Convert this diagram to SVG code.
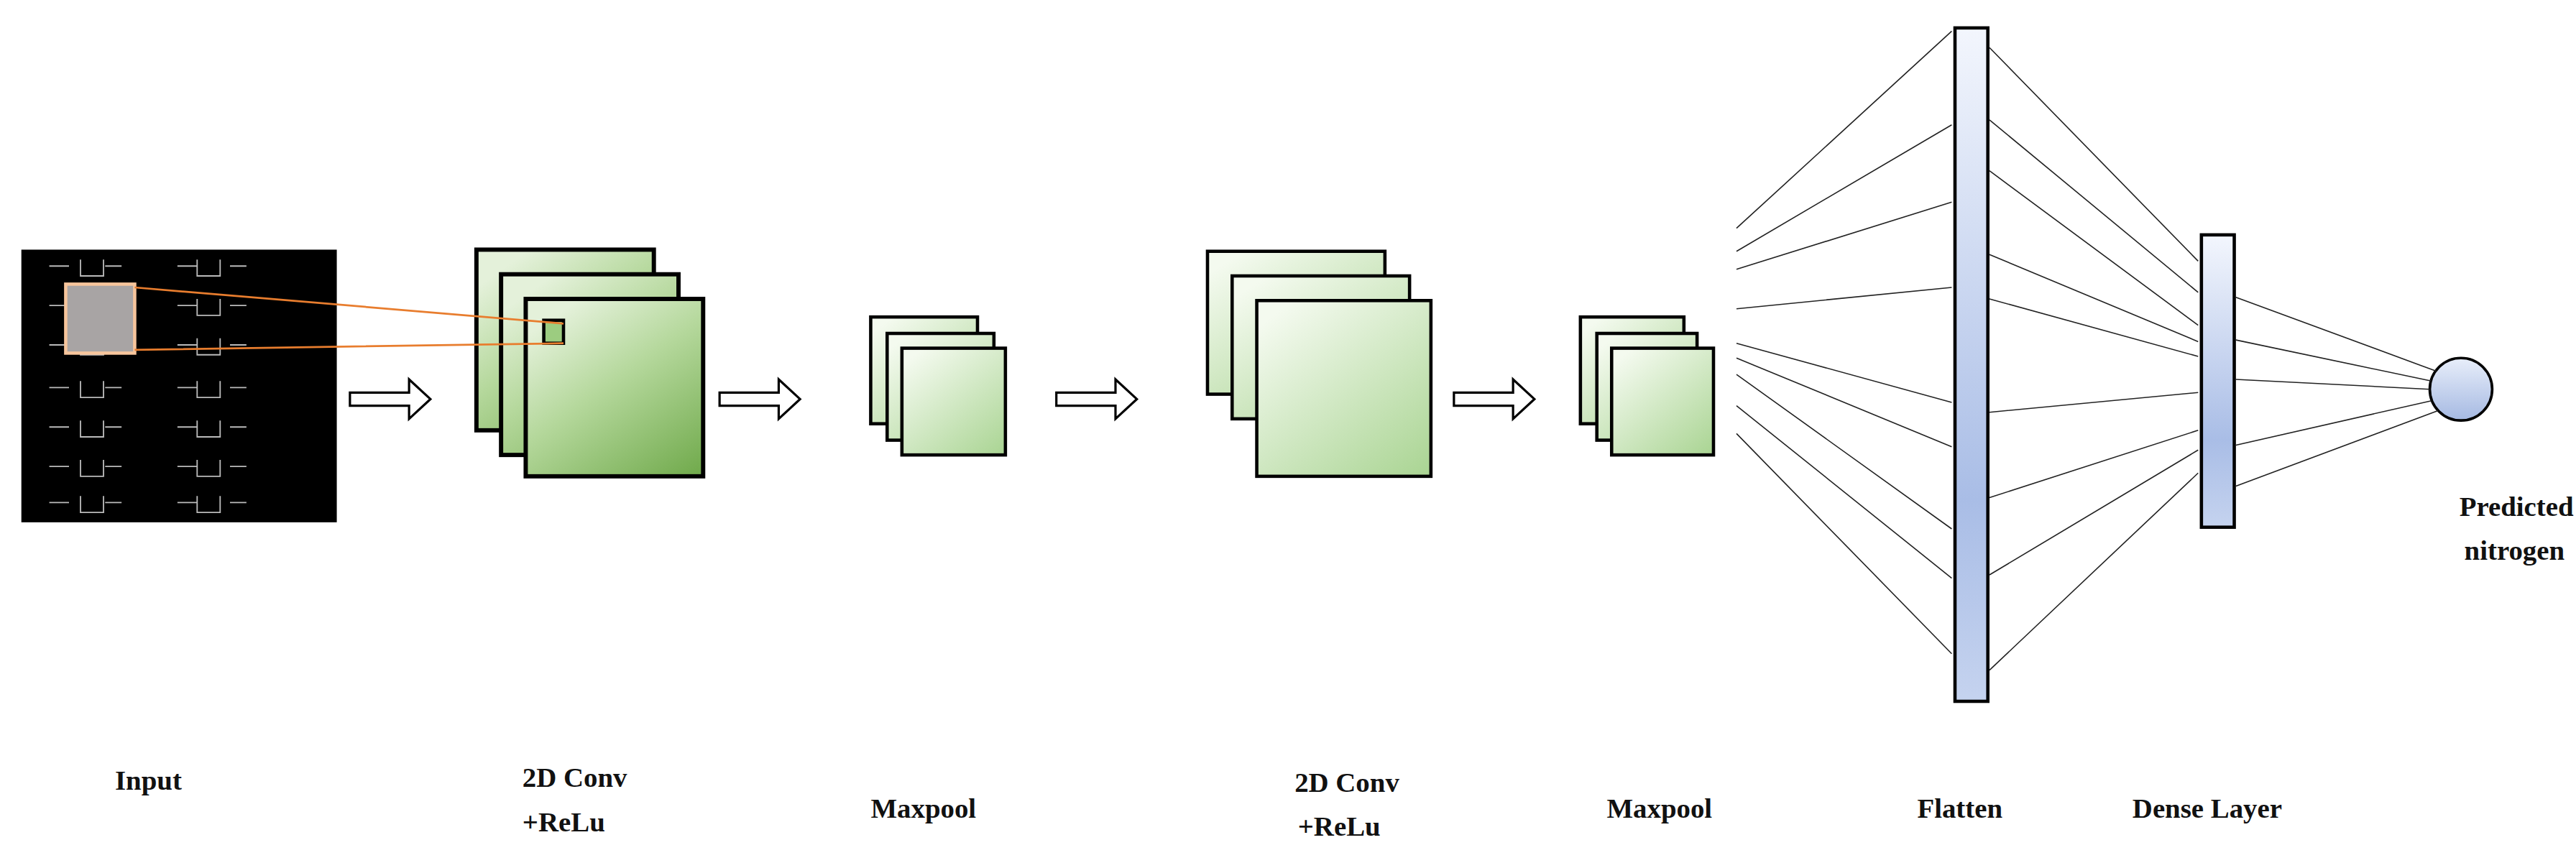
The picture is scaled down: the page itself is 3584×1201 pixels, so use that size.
<svg xmlns="http://www.w3.org/2000/svg" width="3584" height="1201" viewBox="0 0 3584 1201">
<defs>
<linearGradient id="g1" x1="0.3" y1="0" x2="1" y2="1"><stop offset="0" stop-color="#e4f1da"/><stop offset="0.4" stop-color="#b5d89c"/><stop offset="1" stop-color="#6fa94a"/></linearGradient>
<linearGradient id="g2" x1="0.2" y1="0" x2="1" y2="1"><stop offset="0" stop-color="#f4faef"/><stop offset="1" stop-color="#a9d492"/></linearGradient>
<linearGradient id="gb" x1="0" y1="0" x2="0" y2="1"><stop offset="0" stop-color="#f3f6fd"/><stop offset="0.7" stop-color="#a9bde6"/><stop offset="1" stop-color="#c5d3ef"/></linearGradient>
<linearGradient id="gc" x1="0" y1="0" x2="0" y2="1"><stop offset="0" stop-color="#e8eefa"/><stop offset="1" stop-color="#a5b9e2"/></linearGradient>
<style>
.b1{fill:url(#g1);stroke:#000;stroke-width:2.6}
.b2{fill:url(#g2);stroke:#000;stroke-width:2}
.bar{fill:url(#gb);stroke:#000;stroke-width:2}
.ar{fill:#fff;stroke:#000;stroke-width:1.4}
.ln{stroke:#222;stroke-width:0.7;fill:none}
.or{stroke:#e87d2e;stroke-width:1.2;fill:none}
.t{font-family:"Liberation Serif",serif;font-weight:bold;font-size:17px;fill:#111}
.px{stroke:#bbb;stroke-width:0.8;fill:none}
</style>
</defs>
<g transform="scale(2.2857)">
<g id="input">
<rect x="13" y="152" width="192" height="166" fill="#000"/>
<g class="px">
<path d="M30 162h12 M64 162h10 M108 162h12 M140 162h10 M30 186h12 M64 186h10 M108 186h12 M140 186h10 M30 210h12 M64 210h10 M108 210h12 M140 210h10 M30 236h12 M64 236h10 M108 236h12 M140 236h10 M30 260h12 M64 260h10 M108 260h12 M140 260h10 M30 284h12 M64 284h10 M108 284h12 M140 284h10 M30 306h12 M64 306h10 M108 306h12 M140 306h10"/>
<path d="M49 158v10h14v-10 M120 158v10h14v-10 M49 182v10h14v-10 M120 182v10h14v-10 M49 206v10h14v-10 M120 206v10h14v-10 M49 232v10h14v-10 M120 232v10h14v-10 M49 256v10h14v-10 M120 256v10h14v-10 M49 280v10h14v-10 M120 280v10h14v-10 M49 302v10h14v-10 M120 302v10h14v-10"/>
</g>
<rect x="40" y="173" width="42" height="42" fill="#a8a4a4" stroke="#f7c59c" stroke-width="2"/>
</g>
<g id="conv1">
<rect class="b1" x="290" y="152" width="108" height="110"/>
<rect class="b1" x="305" y="167" width="108" height="110"/>
<rect class="b1" x="320" y="182" width="108" height="108"/>
<rect x="331" y="195" width="12" height="14" fill="#9ccc80" stroke="#000" stroke-width="2"/>
</g>
<g id="maxpool1">
<rect class="b2" x="530" y="193" width="65" height="65"/>
<rect class="b2" x="540" y="203" width="65" height="65"/>
<rect class="b2" x="549" y="212" width="63" height="65"/>
</g>
<g id="conv2">
<rect class="b2" x="735" y="153" width="108" height="87"/>
<rect class="b2" x="750" y="168" width="108" height="87"/>
<rect class="b2" x="765" y="183" width="106" height="107"/>
</g>
<g id="maxpool2">
<rect class="b2" x="962" y="193" width="63" height="65"/>
<rect class="b2" x="972" y="203" width="61" height="65"/>
<rect class="b2" x="981" y="212" width="62" height="65"/>
</g>
<g id="flatten"><rect class="bar" x="1190" y="17" width="20" height="410"/></g>
<g id="dense"><rect class="bar" x="1340" y="143" width="20" height="178"/></g>
<g id="output"><circle cx="1498" cy="237" r="19" fill="url(#gc)" stroke="#000" stroke-width="1.6"/></g>
<g id="connectors">
<path class="or" d="M82 175L343 197 M82 213L343 209"/>
<path class="ar" d="M213 239h36v-8l13 12l-13 12v-8h-36z"/>
<path class="ar" d="M438 239h36v-8l13 12l-13 12v-8h-36z"/>
<path class="ar" d="M643 239h36v-8l13 12l-13 12v-8h-36z"/>
<path class="ar" d="M885 239h36v-8l13 12l-13 12v-8h-36z"/>
<path class="ln" d="M1057 139L1188 19 M1057 153L1188 76 M1057 164L1188 123 M1057 188L1188 175 M1057 209L1188 245 M1057 218L1188 272 M1057 228L1188 322 M1057 247L1188 352 M1057 264L1188 398"/>
<path class="ln" d="M1211 29L1338 159 M1211 73L1338 178 M1211 104L1338 198 M1211 155L1338 208 M1211 182L1338 217 M1211 251L1338 239 M1211 303L1338 262 M1211 350L1338 274 M1211 408L1338 288"/>
<path class="ln" d="M1361 181L1483 226 M1361 207L1480 232 M1361 231L1479 237 M1361 271L1480 244 M1361 296L1484 250"/>
</g>
<g id="labels">
<text class="t" x="70" y="481">Input</text>
<text class="t" x="318" y="479">2D Conv</text>
<text class="t" x="318" y="506">+ReLu</text>
<text class="t" x="530" y="498">Maxpool</text>
<text class="t" x="788" y="482">2D Conv</text>
<text class="t" x="790" y="509">+ReLu</text>
<text class="t" x="978" y="498">Maxpool</text>
<text class="t" x="1167" y="498">Flatten</text>
<text class="t" x="1298" y="498">Dense Layer</text>
<text class="t" x="1497" y="314">Predicted</text>
<text class="t" x="1500" y="341">nitrogen</text>
</g>
</g>
</svg>
